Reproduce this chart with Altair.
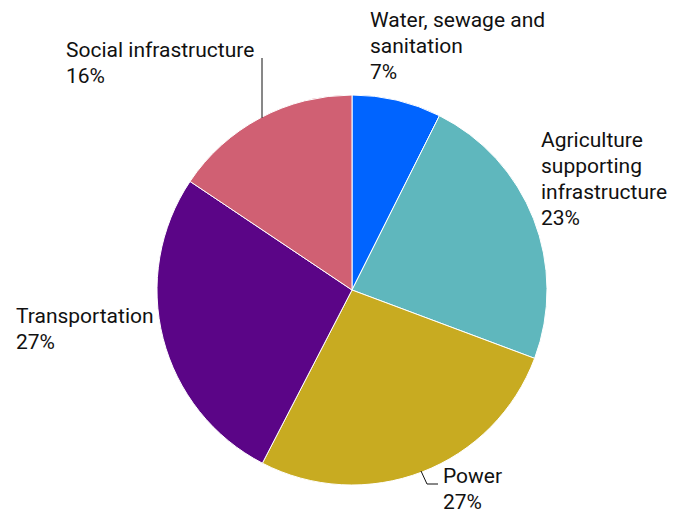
import altair as alt
import pandas as pd

categories = ["Water, sewage and sanitation", "Agriculture supporting infrastructure",
              "Power", "Transportation", "Social infrastructure"]
values = [7.4, 23.3, 26.9, 26.8, 15.6]
pct_labels = ["7%", "23%", "27%", "27%", "16%"]
colors = ["#0064FF", "#5FB7BD", "#C8AB21", "#5B0587", "#D06073"]

# label layout (annotation positions)
label_lines = [
    ["Water, sewage and", "sanitation", "7%"],
    ["Agriculture", "supporting", "infrastructure", "23%"],
    ["Power", "27%"],
    ["Transportation", "27%"],
    ["Social infrastructure", "16%"],
]
label_x = [370, 541, 443, 16, 66]
label_y = [27, 147, 483, 323, 57]

df = pd.DataFrame({"category": categories, "value": values, "order": list(range(5))})

pie = alt.Chart(df).mark_arc(outerRadius=195, stroke="white", strokeWidth=1).encode(
    theta=alt.Theta("value:Q", stack=True),
    order=alt.Order("order:Q"),
    color=alt.Color("category:N", scale=alt.Scale(domain=categories, range=colors), legend=None),
    x=alt.value(352),
    y=alt.value(290),
)

lab_df = pd.DataFrame({"text": label_lines, "x": label_x, "y": label_y})
labels = alt.Chart(lab_df).mark_text(
    align="left", baseline="alphabetic", font="Roboto", fontSize=21, lineHeight=26, color="#111111"
).encode(
    x=alt.X("x:Q", scale=None),
    y=alt.Y("y:Q", scale=None),
    text="text",
)

lead_df = pd.DataFrame({
    "id": ["s", "s", "p", "p", "p"],
    "k": [0, 1, 0, 1, 2],
    "x": [262, 262, 421, 427, 438],
    "y": [58, 118, 471, 484, 484],
})
leaders = alt.Chart(lead_df).mark_line(color="#111111", strokeWidth=1).encode(
    x=alt.X("x:Q", scale=None),
    y=alt.Y("y:Q", scale=None),
    detail="id:N",
    order="k:Q",
)

chart = alt.layer(pie, leaders, labels).properties(
    width=675, height=512, padding=0, autosize=alt.AutoSizeParams(type="none")
).configure_view(stroke=None)

chart.save("out.html", embed_options={"renderer": "svg", "actions": False})
